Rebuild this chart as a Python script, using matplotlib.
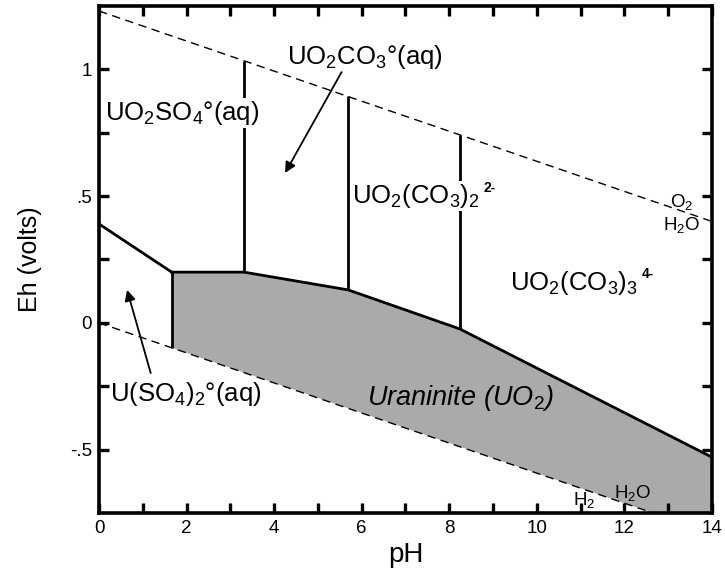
import matplotlib
matplotlib.use("Agg")
import matplotlib.pyplot as plt
from matplotlib.ticker import FixedLocator, FixedFormatter

plt.rcParams['font.family'] = ['Liberation Sans', 'DejaVu Sans']
plt.rcParams['mathtext.fontset'] = 'custom'
plt.rcParams['mathtext.rm'] = 'Liberation Sans'
plt.rcParams['mathtext.it'] = 'Liberation Sans:italic'
plt.rcParams['mathtext.bf'] = 'Liberation Sans:bold'

# ---- data ----
# water stability limits
o2_ph = [0.0, 14.0]
o2_eh = [1.23, 0.40]
h2_ph = [0.0, 14.0]
h2_eh = [0.0, -0.83]

# U(SO4)2 / UO2SO4 boundary
usulf_ph = [0.0, 1.66]
usulf_eh = [0.39, 0.20]

# upper boundary of uraninite field
uran_top_ph = [1.66, 3.31, 5.69, 8.24, 14.0]
uran_top_eh = [0.20, 0.20, 0.13, -0.024, -0.53]
# lower boundary of uraninite field (on H2/H2O line)
uran_bot_ph = [14.0, 1.66]
uran_bot_eh = [-0.83, -0.098]

# vertical boundaries between aqueous species
vert_ph = [1.66, 3.31, 5.69, 8.24]
vert_lo = [-0.098, 0.20, 0.13, -0.024]
vert_hi = [0.20, 1.034, 0.893, 0.742]

x_ticks = list(range(0, 15))
x_labels = [str(v) if v % 2 == 0 else '' for v in x_ticks]
y_ticks = [-0.5, -0.25, 0.0, 0.25, 0.5, 0.75, 1.0]
y_labels = ['-.5', '', '0', '', '.5', '', '1']

fig = plt.figure(figsize=(7.25, 5.71), dpi=100)
ax = fig.add_axes([0.1366, 0.1016, 0.8454, 0.888])

# uraninite field
poly_x = uran_top_ph + uran_bot_ph
poly_y = uran_top_eh + uran_bot_eh
ax.fill(poly_x, poly_y, color='#aaaaaa', lw=0, zorder=1)

# water lines
ax.plot(o2_ph, o2_eh, color='black', lw=1.0, ls=(0, (6, 4)), zorder=2)
ax.plot(h2_ph, h2_eh, color='black', lw=1.0, ls=(0, (6, 4)), zorder=2)

# boundaries
ax.plot(usulf_ph, usulf_eh, color='black', lw=2.0, zorder=3, solid_capstyle='butt')
ax.plot(uran_top_ph, uran_top_eh, color='black', lw=2.0, zorder=3, solid_joinstyle='miter')
for p, lo, hi in zip(vert_ph, vert_lo, vert_hi):
    ax.plot([p, p], [lo, hi], color='black', lw=2.0, zorder=3, solid_capstyle='butt')

ax.set_xlim(0, 14)
ax.set_ylim(-0.75, 1.25)

ax.xaxis.set_major_locator(FixedLocator(x_ticks))
ax.xaxis.set_major_formatter(FixedFormatter(x_labels))
ax.yaxis.set_major_locator(FixedLocator(y_ticks))
ax.yaxis.set_major_formatter(FixedFormatter(y_labels))
ax.tick_params(which='both', direction='in', top=True, right=True,
               length=7, width=2.4, labelsize=13.5, pad=5)
for s in ax.spines.values():
    s.set_linewidth(2.6)

ax.set_xlabel('pH', fontsize=20, labelpad=4)
ax.set_ylabel('Eh (volts)', fontsize=18, labelpad=20)

box = dict(facecolor='white', edgecolor='none', pad=0.5)
fs = 18.5
ax.text(0.14, 0.80, 'UO$_2$SO$_4$°(aq)', fontsize=fs, ha='left', va='baseline', bbox=box, zorder=5)
ax.text(4.29, 1.022, 'UO$_2$CO$_3$°(aq)', fontsize=fs, ha='left', va='baseline', bbox=box, zorder=5)
t2 = ax.text(5.78, 0.472, 'UO$_2$(CO$_3$)$_2$', fontsize=fs, ha='left', va='baseline', bbox=box, zorder=5)
ax.annotate('2-', xy=(1, 1), xycoords=t2, xytext=(2.5, 1), textcoords='offset points',
            fontsize=10, fontweight='bold', ha='left', va='top', zorder=5)
t3 = ax.text(9.39, 0.13, 'UO$_2$(CO$_3$)$_3$', fontsize=fs, ha='left', va='baseline', zorder=5)
ax.annotate('4-', xy=(1, 1), xycoords=t3, xytext=(2.5, 1), textcoords='offset points',
            fontsize=10, fontweight='bold', ha='left', va='top', zorder=5)
ax.text(0.25, -0.307, 'U(SO$_4$)$_2$°(aq)', fontsize=fs, ha='left', va='baseline', zorder=5)
ax.text(6.12, -0.323, 'Uraninite (UO$_{\\mathit{2}}$)', fontsize=19.5, style='italic', ha='left', va='baseline', zorder=5)

sfs = 13.5
ax.text(13.04, 0.457, 'O$_2$', fontsize=sfs, ha='left', va='baseline', zorder=5)
ax.text(12.88, 0.366, 'H$_2$O', fontsize=sfs, ha='left', va='baseline', zorder=5)
ax.text(10.82, -0.717, 'H$_2$', fontsize=sfs, ha='left', va='baseline', zorder=5)
ax.text(11.76, -0.689, 'H$_2$O', fontsize=sfs, ha='left', va='baseline', zorder=5)

arr = dict(arrowstyle='-|>', color='black', lw=1.3, mutation_scale=16, shrinkA=0, shrinkB=0)
ax.annotate('', xy=(4.25, 0.591), xytext=(5.54, 0.989), arrowprops=arr, zorder=5)
ax.annotate('', xy=(0.64, 0.13), xytext=(1.18, -0.198), arrowprops=arr, zorder=5)

fig.savefig('out.png', dpi=100)
